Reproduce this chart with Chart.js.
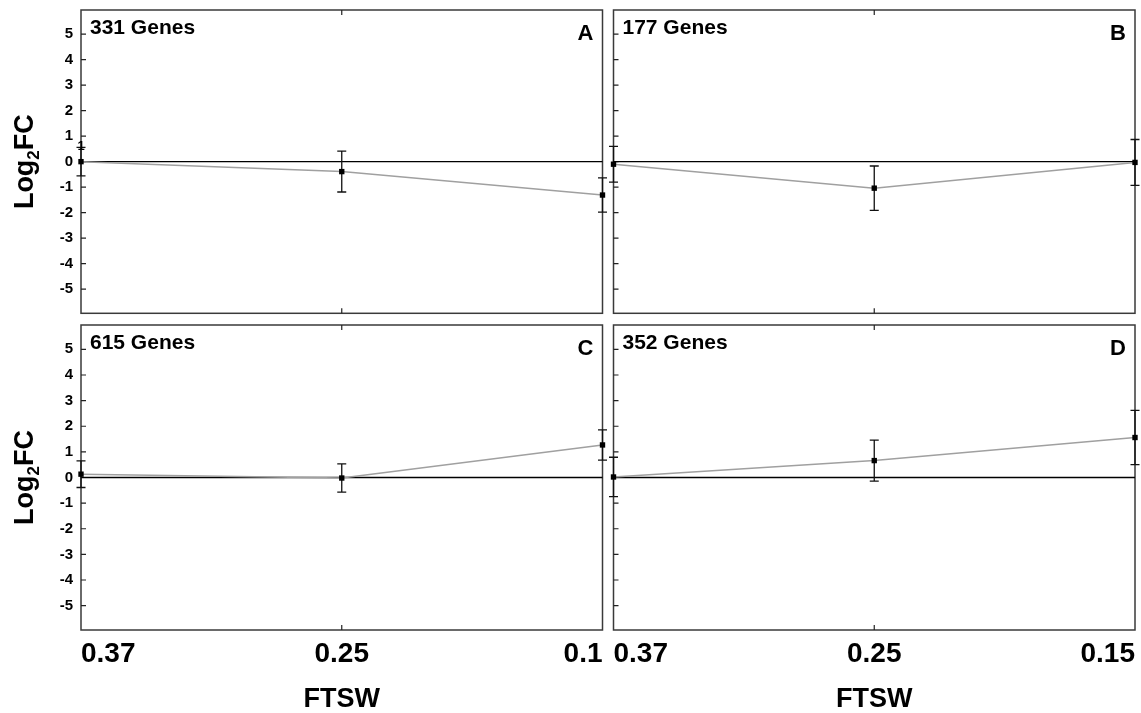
<!DOCTYPE html>
<html>
<head>
<meta charset="utf-8">
<script src="https://cdn.jsdelivr.net/npm/chart.js@4"></script>
<style>
  body { margin: 0; background: #fff; }
  #wrap { position: relative; width: 1141px; height: 713px; overflow: hidden; }
  canvas { position: absolute; }
</style>
</head>
<body>
<div id="wrap">
  <canvas id="chartA" width="610" height="320" style="left:0;top:0"></canvas>
  <canvas id="chartB" width="536" height="320" style="left:605px;top:0"></canvas>
  <canvas id="chartC" width="610" height="395" style="left:0;top:318px"></canvas>
  <canvas id="chartD" width="536" height="395" style="left:605px;top:318px"></canvas>
</div>
<script>
// FTSW levels (categories)
const ftswLeft = ['0.37', '0.25', '0.1'];
const ftswRight = ['0.37', '0.25', '0.15'];
const yTickValues = [-5, -4, -3, -2, -1, 0, 1, 2, 3, 4, 5];

// mean Log2FC and error per panel
const meanA = [0, -0.39, -1.31];
const errA = [0.56, 0.8, 0.67];
const meanB = [-0.1, -1.04, -0.03];
const errB = [0.7, 0.87, 0.9];
const meanC = [0.13, -0.02, 1.27];
const errC = [0.52, 0.55, 0.59];
const meanD = [0.02, 0.66, 1.56];
const errD = [0.77, 0.8, 1.06];

const FONT = '"Liberation Sans", Arial, sans-serif';

const panelPlugin = {
    id: 'panel',
    beforeDatasetsDraw(chart, args, opts) {
        const ctx = chart.ctx;
        const area = chart.chartArea;
        const x = chart.scales.x;
        const y = chart.scales.y;
        ctx.save();
        // frame
        ctx.strokeStyle = '#3a3a3a';
        ctx.lineWidth = 1.5;
        ctx.strokeRect(area.left, area.top, area.right - area.left, area.bottom - area.top);
        // inner tick marks
        ctx.strokeStyle = '#222';
        ctx.lineWidth = 1.2;
        ctx.beginPath();
        yTickValues.forEach(v => {
            const py = y.getPixelForValue(v);
            ctx.moveTo(area.left, py);
            ctx.lineTo(area.left + 5, py);
        });
        const mx = x.getPixelForValue(1);
        ctx.moveTo(mx, area.top);
        ctx.lineTo(mx, area.top + 5);
        ctx.moveTo(mx, area.bottom);
        ctx.lineTo(mx, area.bottom - 5);
        ctx.stroke();
        // zero line
        const y0 = y.getPixelForValue(0);
        ctx.strokeStyle = '#000';
        ctx.lineWidth = 1.3;
        ctx.beginPath();
        ctx.moveTo(area.left, y0);
        ctx.lineTo(area.right, y0);
        ctx.stroke();
        // error bars
        ctx.lineWidth = 1.3;
        ctx.strokeStyle = '#111';
        ctx.beginPath();
        opts.means.forEach((m, i) => {
            const px = x.getPixelForValue(i);
            const hi = y.getPixelForValue(m + opts.errs[i]);
            const lo = y.getPixelForValue(m - opts.errs[i]);
            ctx.moveTo(px, hi);
            ctx.lineTo(px, lo);
            ctx.moveTo(px - 4.5, hi);
            ctx.lineTo(px + 4.5, hi);
            ctx.moveTo(px - 4.5, lo);
            ctx.lineTo(px + 4.5, lo);
        });
        ctx.stroke();
        ctx.restore();
    },
    afterDraw(chart, args, opts) {
        const ctx = chart.ctx;
        const area = chart.chartArea;
        ctx.save();
        ctx.fillStyle = '#000';
        ctx.textBaseline = 'alphabetic';
        ctx.font = 'bold 21px ' + FONT;
        ctx.textAlign = 'left';
        ctx.fillText(opts.genes + ' Genes', area.left + 9, area.top + 24);
        ctx.font = 'bold 22px ' + FONT;
        ctx.textAlign = 'right';
        ctx.fillText(opts.letter, area.right - 9, area.top + 30);
        if (opts.stray) {
            ctx.font = 'bold 13px ' + FONT;
            ctx.textAlign = 'center';
            ctx.fillText(opts.stray, area.left, chart.scales.y.getPixelForValue(0) - 12);
        }
        if (opts.yTitle) {
            // Log2FC with subscript
            const cy = (area.top + area.bottom) / 2;
            ctx.translate(33, cy);
            ctx.rotate(-Math.PI / 2);
            ctx.textAlign = 'left';
            const big = 'bold 27px ' + FONT;
            const small = 'bold 17px ' + FONT;
            ctx.font = big;
            const w1 = ctx.measureText('Log').width;
            const w3 = ctx.measureText('FC').width;
            ctx.font = small;
            const w2 = ctx.measureText('2').width;
            let sx = -(w1 + w2 + w3) / 2;
            ctx.font = big;
            ctx.fillText('Log', sx, 0);
            sx += w1;
            ctx.font = small;
            ctx.fillText('2', sx, 6);
            sx += w2;
            ctx.font = big;
            ctx.fillText('FC', sx, 0);
        }
        ctx.restore();
    }
};

function makePanel(id, labels, means, errs, genes, letter, cfg) {
    return new Chart(document.getElementById(id), {
        type: 'line',
        data: {
            labels: labels,
            datasets: [{
                data: means,
                borderColor: '#a0a0a0',
                borderWidth: 1.5,
                pointStyle: 'rect',
                pointRadius: 3.8,
                pointBackgroundColor: '#000',
                pointBorderColor: '#000',
                pointBorderWidth: 0,
                tension: 0,
                clip: false
            }]
        },
        options: {
            responsive: false,
            animation: false,
            events: [],
            layout: { padding: cfg.padding },
            plugins: {
                legend: { display: false },
                tooltip: { enabled: false },
                panel: {
                    means: means,
                    errs: errs,
                    genes: genes,
                    letter: letter,
                    yTitle: cfg.yLabels,
                    stray: cfg.stray
                }
            },
            scales: {
                x: {
                    type: 'category',
                    offset: false,
                    grid: { display: false, drawTicks: false },
                    border: { display: false },
                    ticks: {
                        display: cfg.xLabels,
                        align: 'inner',
                        padding: 7,
                        maxRotation: 0,
                        color: '#000',
                        font: { family: FONT, size: 28, weight: 'bold' }
                    },
                    title: {
                        display: cfg.xLabels,
                        text: 'FTSW',
                        color: '#000',
                        padding: { top: 0, bottom: 0 },
                        font: { family: FONT, size: 27, weight: 'bold', lineHeight: 1 }
                    },
                    afterFit: function(scale) {
                        scale.height = cfg.xHeight;
                        scale.paddingLeft = 0;
                        scale.paddingRight = 0;
                    }
                },
                y: {
                    display: cfg.yLabels,
                    min: -5.95,
                    max: 5.95,
                    grid: { display: false, drawTicks: false },
                    border: { display: false },
                    afterBuildTicks: function(scale) {
                        scale.ticks = yTickValues.map(v => ({ value: v }));
                    },
                    ticks: {
                        padding: 8,
                        color: '#000',
                        font: { family: FONT, size: 15, weight: 'bold' }
                    },
                    afterFit: function(scale) {
                        scale.width = cfg.yLabels ? 81 : 0;
                        scale.paddingTop = 0;
                        scale.paddingBottom = 0;
                    }
                }
            }
        },
        plugins: [panelPlugin]
    });
}

makePanel('chartA', ftswLeft, meanA, errA, 331, 'A',
    { padding: { top: 10, right: 7.5, left: 0, bottom: 0 }, xHeight: 6.7, xLabels: false, yLabels: true, stray: '1' });
makePanel('chartB', ftswRight, meanB, errB, 177, 'B',
    { padding: { top: 10, right: 6, left: 8.5, bottom: 0 }, xHeight: 6.7, xLabels: false, yLabels: false });
makePanel('chartC', ftswLeft, meanC, errC, 615, 'C',
    { padding: { top: 7, right: 7.5, left: 0, bottom: 0 }, xHeight: 83, xLabels: true, yLabels: true });
makePanel('chartD', ftswRight, meanD, errD, 352, 'D',
    { padding: { top: 7, right: 6, left: 8.5, bottom: 0 }, xHeight: 83, xLabels: true, yLabels: false });
</script>
</body>
</html>
